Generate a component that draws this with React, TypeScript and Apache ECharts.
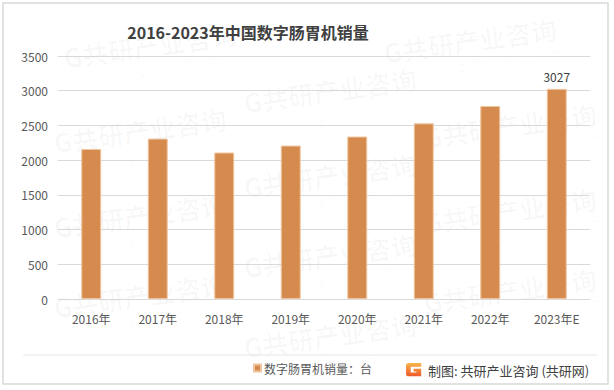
import React, { useEffect, useRef } from "react";
import * as echarts from "echarts";

const categories = ["2016年", "2017年", "2018年", "2019年", "2020年", "2021年", "2022年", "2023年E"];
const salesValues = [2160, 2310, 2110, 2210, 2340, 2530, 2780, 3027];
const seriesName = "数字肠胃机销量：台";
const titleText = "2016-2023年中国数字肠胃机销量";
const sourceText = "制图: 共研产业咨询 (共研网)";

const FONT = "'Noto Sans CJK SC', 'Microsoft YaHei', sans-serif";

const watermarkSpots: [number, number][] = [
  [150, 45], [470, 40],
  [330, 90], [140, 130], [510, 125],
  [330, 175], [140, 215], [510, 210],
  [330, 255], [140, 295], [510, 290],
  [330, 335],
];

export default function App() {
  const ref = useRef<HTMLDivElement>(null);
  useEffect(() => {
    document.body.style.margin = "0";
    if (!ref.current) return;
    echarts.graphic.registerShape(
      "logo",
      echarts.graphic.extendPath(
        "M0 3 Q0 0 3 0 L16 0 L16 4 L5 4 L5 10 L11 10 L11 9 L8 9 L8 6 L16 6 L16 14 L3 14 Q0 14 0 11 Z",
        {}
      )
    );
    const chart = echarts.init(ref.current, null, { renderer: "svg" });

    const watermarks: any[] = watermarkSpots.map(([x, y]) => ({
      type: "group",
      x,
      y,
      rotation: 0.14,
      silent: true,
      z: -10,
      children: [
        {
          type: "text",
          x: 0,
          y: 0,
          style: {
            text: "G共研产业咨询",
            font: `bold 26px ${FONT}`,
            fill: "rgba(0,0,0,0.028)",
            textAlign: "center",
            textVerticalAlign: "middle",
          },
        },
        {
          type: "text",
          x: 10,
          y: 24,
          style: {
            text: "w w w . g o n y n . c o m",
            font: `15px ${FONT}`,
            fill: "rgba(0,0,0,0.028)",
            textAlign: "center",
            textVerticalAlign: "middle",
          },
        },
      ],
    }));

    chart.setOption({
      animation: false,
      backgroundColor: "#ffffff",
      textStyle: { fontFamily: FONT },
      grid: { left: 58, right: 24, top: 56, bottom: 91, containLabel: false },
      xAxis: {
        type: "category",
        data: categories,
        axisLine: { show: true, lineStyle: { color: "#d9d9d9", width: 1 } },
        axisTick: { show: false },
        axisLabel: { color: "#595959", fontSize: 12, margin: 13, fontFamily: FONT },
      },
      yAxis: {
        type: "value",
        min: 0,
        max: 3500,
        interval: 500,
        axisLine: { show: false },
        axisTick: { show: false },
        axisLabel: {
          color: "#595959",
          fontSize: 12,
          margin: 10,
          fontFamily: FONT,
          formatter: (v: number) => String(v),
        },
        splitLine: { lineStyle: { color: "#d9d9d9", width: 1 } },
      },
      legend: {
        left: 248,
        top: 357,
        itemWidth: 7,
        itemHeight: 7,
        itemGap: 6,
        icon: "rect",
        textStyle: { color: "#595959", fontSize: 12, fontFamily: FONT, padding: [0, 0, 0, -2] },
        data: [seriesName],
      },
      series: [
        {
          name: seriesName,
          type: "bar",
          data: salesValues.map((v, i) =>
            i === salesValues.length - 1
              ? {
                  value: v,
                  label: {
                    show: true,
                    position: "top",
                    distance: 6,
                    color: "#404040",
                    fontSize: 12,
                    fontFamily: FONT,
                  },
                }
              : v
          ),
          barWidth: "30%",
          itemStyle: { color: "#D48B4D", borderColor: "#F0C6A2", borderWidth: 1 },
        },
      ],
      graphic: [
        ...watermarks,
        {
          type: "rect",
          shape: { x: 3, y: 3, width: 605, height: 381 },
          style: { fill: "none", stroke: "#d9d9d9", lineWidth: 1.5 },
          silent: true,
          z: 100,
        },
        {
          type: "line",
          shape: { x1: 23, y1: 355, x2: 597, y2: 355 },
          style: { stroke: "#e6e6e6", lineWidth: 1 },
          silent: true,
        },
        {
          type: "text",
          x: 248,
          y: 32,
          style: {
            text: titleText,
            font: `bold 16px ${FONT}`,
            fill: "#404040",
            textAlign: "center",
            textVerticalAlign: "middle",
          },
        },
        {
          type: "logo",
          x: 406,
          y: 363,
          scaleX: 0.95,
          scaleY: 0.95,
          style: {
            fill: new echarts.graphic.LinearGradient(0, 0, 0, 1, [
              { offset: 0, color: "#F9B54A" },
              { offset: 1, color: "#EE5A2A" },
            ]),
          },
        },
        {
          type: "text",
          x: 428,
          y: 370,
          style: {
            text: sourceText,
            font: `13px ${FONT}`,
            fill: "#404040",
            textAlign: "left",
            textVerticalAlign: "middle",
          },
        },
      ],
    });
    return () => chart.dispose();
  }, []);
  return <div ref={ref} style={{ width: 614, height: 390 }} />;
}
